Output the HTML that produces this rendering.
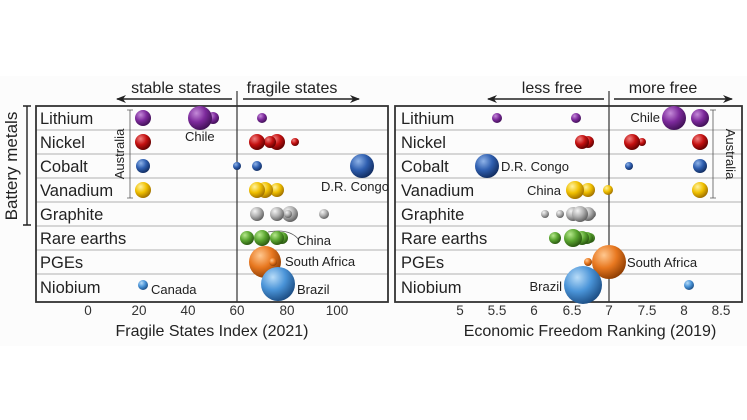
<!DOCTYPE html>
<html><head><meta charset="utf-8"><style>
html,body{margin:0;padding:0;background:#fff}
svg{display:block;font-family:"Liberation Sans",sans-serif}
</style></head><body>
<svg width="747" height="420" viewBox="0 0 747 420" xmlns="http://www.w3.org/2000/svg">
<defs>
<radialGradient id="pu" cx="35%" cy="30%" r="75%"><stop offset="0" stop-color="#c48ad8"/><stop offset="0.5" stop-color="#7d2a9c"/><stop offset="1" stop-color="#3d0f52"/></radialGradient>
<radialGradient id="re" cx="35%" cy="30%" r="75%"><stop offset="0" stop-color="#f08080"/><stop offset="0.5" stop-color="#c41010"/><stop offset="1" stop-color="#5a0000"/></radialGradient>
<radialGradient id="bl" cx="35%" cy="30%" r="75%"><stop offset="0" stop-color="#8fb3e8"/><stop offset="0.5" stop-color="#2f5fb0"/><stop offset="1" stop-color="#102a5c"/></radialGradient>
<radialGradient id="ye" cx="35%" cy="30%" r="75%"><stop offset="0" stop-color="#fff2a0"/><stop offset="0.5" stop-color="#f0c000"/><stop offset="1" stop-color="#9a6a00"/></radialGradient>
<radialGradient id="gr" cx="35%" cy="30%" r="75%"><stop offset="0" stop-color="#f4f4f4"/><stop offset="0.5" stop-color="#b0b0b0"/><stop offset="1" stop-color="#5a5a5a"/></radialGradient>
<radialGradient id="gn" cx="35%" cy="30%" r="75%"><stop offset="0" stop-color="#b6e88c"/><stop offset="0.5" stop-color="#5aa530"/><stop offset="1" stop-color="#26520e"/></radialGradient>
<radialGradient id="or" cx="35%" cy="30%" r="75%"><stop offset="0" stop-color="#ffc890"/><stop offset="0.5" stop-color="#e87820"/><stop offset="1" stop-color="#8a3a00"/></radialGradient>
<radialGradient id="lb" cx="35%" cy="30%" r="75%"><stop offset="0" stop-color="#b8dcf8"/><stop offset="0.5" stop-color="#4a94d8"/><stop offset="1" stop-color="#1a4a80"/></radialGradient>
<marker id="ar" markerWidth="10" markerHeight="8" refX="9" refY="4" orient="auto" markerUnits="userSpaceOnUse"><path d="M0,0 L10,4 L0,8 L3,4 Z" fill="#222"/></marker>
</defs>
<rect x="0" y="76" width="747" height="270" fill="#fcfcfc"/>
<g stroke="#999" stroke-width="0.8">
<line x1="36" y1="130" x2="388" y2="130"/><line x1="36" y1="154" x2="388" y2="154"/><line x1="36" y1="178" x2="388" y2="178"/><line x1="36" y1="202" x2="388" y2="202"/><line x1="36" y1="226" x2="388" y2="226"/><line x1="36" y1="250" x2="388" y2="250"/><line x1="36" y1="274" x2="388" y2="274"/>
<line x1="395" y1="130" x2="742" y2="130"/><line x1="395" y1="154" x2="742" y2="154"/><line x1="395" y1="178" x2="742" y2="178"/><line x1="395" y1="202" x2="742" y2="202"/><line x1="395" y1="226" x2="742" y2="226"/><line x1="395" y1="250" x2="742" y2="250"/><line x1="395" y1="274" x2="742" y2="274"/>
</g>
<rect x="36" y="106" width="352" height="196" fill="none" stroke="#333" stroke-width="1.8"/>
<rect x="395" y="106" width="347" height="196" fill="none" stroke="#333" stroke-width="1.8"/>
<line x1="237" y1="91" x2="237" y2="302" stroke="#333" stroke-width="1.2"/>
<line x1="609" y1="91" x2="609" y2="302" stroke="#333" stroke-width="1.2"/>
<g stroke="#222" stroke-width="1.5" marker-end="url(#ar)">
<line x1="232" y1="99" x2="117" y2="99"/><line x1="243" y1="99" x2="359" y2="99"/>
<line x1="604" y1="99" x2="488" y2="99"/><line x1="614" y1="99" x2="732" y2="99"/>
</g>
<g font-size="16" fill="#222" text-anchor="middle">
<text x="176" y="93">stable states</text><text x="292" y="93">fragile states</text>
<text x="552" y="93">less free</text><text x="663" y="93">more free</text>
</g>
<g font-size="16.5" fill="#222">
<text x="40" y="124">Lithium</text><text x="40" y="148">Nickel</text><text x="40" y="172">Cobalt</text><text x="40" y="196">Vanadium</text><text x="40" y="220">Graphite</text><text x="40" y="244">Rare earths</text><text x="40" y="268">PGEs</text><text x="40" y="293">Niobium</text>
<text x="401" y="124">Lithium</text><text x="401" y="148">Nickel</text><text x="401" y="172">Cobalt</text><text x="401" y="196">Vanadium</text><text x="401" y="220">Graphite</text><text x="401" y="244">Rare earths</text><text x="401" y="268">PGEs</text><text x="401" y="293">Niobium</text>
</g>
<g font-size="13.5" fill="#333" text-anchor="middle">
<text x="88" y="315">0</text><text x="139" y="315">20</text><text x="188" y="315">40</text><text x="237" y="315">60</text><text x="287" y="315">80</text><text x="337" y="315">100</text>
<text x="460" y="315">5</text><text x="497" y="315">5.5</text><text x="534" y="315">6</text><text x="572" y="315">6.5</text><text x="609" y="315">7</text><text x="647" y="315">7.5</text><text x="684" y="315">8</text><text x="721" y="315">8.5</text>
</g>
<g font-size="16" fill="#222" text-anchor="middle">
<text x="212" y="336">Fragile States Index (2021)</text>
<text x="590" y="336">Economic Freedom Ranking (2019)</text>
<text transform="translate(17,166) rotate(-90)" font-size="17">Battery metals</text>
<text transform="translate(124,154) rotate(-90)" font-size="13">Australia</text>
<text transform="translate(726,154) rotate(90)" font-size="13">Australia</text>
</g>
<g stroke="#222" stroke-width="1.4" fill="none">
<path d="M23,106 H31 M27,106 V225 M23,225 H31"/>
</g>
<g stroke="#555" stroke-width="0.8" fill="none">
<path d="M127,110 H133 M130,110 V198 M127,198 H133"/>
<path d="M710,110 H716 M713,110 V198 M710,198 H716"/>
<path d="M299,240 Q290,228 268,232"/>
</g>
<g>
<circle cx="262" cy="118" r="5" fill="url(#pu)"/><circle cx="213" cy="118" r="6" fill="url(#pu)"/><circle cx="200" cy="118" r="12" fill="url(#pu)"/><circle cx="143" cy="118" r="8" fill="url(#pu)"/>
<circle cx="143" cy="142" r="8" fill="url(#re)"/><circle cx="295" cy="142" r="4" fill="url(#re)"/><circle cx="277" cy="142" r="8" fill="url(#re)"/><circle cx="270" cy="142" r="6" fill="url(#re)"/><circle cx="257" cy="142" r="8" fill="url(#re)"/>
<circle cx="143" cy="166" r="7" fill="url(#bl)"/><circle cx="237" cy="166" r="4" fill="url(#bl)"/><circle cx="257" cy="166" r="5" fill="url(#bl)"/><circle cx="362" cy="166" r="12" fill="url(#bl)"/>
<circle cx="143" cy="190" r="8" fill="url(#ye)"/><circle cx="277" cy="190" r="7" fill="url(#ye)"/><circle cx="265" cy="190" r="8" fill="url(#ye)"/><circle cx="257" cy="190" r="8" fill="url(#ye)"/>
<circle cx="324" cy="214" r="5" fill="url(#gr)"/><circle cx="290" cy="214" r="8" fill="url(#gr)"/><circle cx="288" cy="214" r="4" fill="url(#gr)"/><circle cx="277" cy="214" r="7" fill="url(#gr)"/><circle cx="257" cy="214" r="7" fill="url(#gr)"/>
<circle cx="247" cy="238" r="7" fill="url(#gn)"/><circle cx="282" cy="238" r="6" fill="url(#gn)"/><circle cx="277" cy="238" r="7" fill="url(#gn)"/><circle cx="262" cy="238" r="8" fill="url(#gn)"/>
<circle cx="265" cy="262" r="16" fill="url(#or)"/><circle cx="273" cy="262" r="4" fill="url(#or)"/>
<circle cx="143" cy="285" r="5" fill="url(#lb)"/><circle cx="278" cy="284" r="17" fill="url(#lb)"/>
</g>
<g>
<circle cx="497" cy="118" r="5" fill="url(#pu)"/><circle cx="576" cy="118" r="5" fill="url(#pu)"/><circle cx="674" cy="118" r="12" fill="url(#pu)"/><circle cx="700" cy="118" r="9" fill="url(#pu)"/>
<circle cx="642" cy="142" r="4" fill="url(#re)"/><circle cx="632" cy="142" r="8" fill="url(#re)"/><circle cx="588" cy="142" r="6" fill="url(#re)"/><circle cx="582" cy="142" r="7" fill="url(#re)"/><circle cx="700" cy="142" r="8" fill="url(#re)"/>
<circle cx="487" cy="166" r="12" fill="url(#bl)"/><circle cx="629" cy="166" r="4" fill="url(#bl)"/><circle cx="700" cy="166" r="7" fill="url(#bl)"/>
<circle cx="608" cy="190" r="5" fill="url(#ye)"/><circle cx="588" cy="190" r="7" fill="url(#ye)"/><circle cx="575" cy="190" r="9" fill="url(#ye)"/><circle cx="700" cy="190" r="8" fill="url(#ye)"/>
<circle cx="545" cy="214" r="4" fill="url(#gr)"/><circle cx="560" cy="214" r="4" fill="url(#gr)"/><circle cx="592" cy="214" r="4" fill="url(#gr)"/><circle cx="588" cy="214" r="7" fill="url(#gr)"/><circle cx="573" cy="214" r="7" fill="url(#gr)"/><circle cx="580" cy="214" r="8" fill="url(#gr)"/>
<circle cx="555" cy="238" r="6" fill="url(#gn)"/><circle cx="590" cy="238" r="5" fill="url(#gn)"/><circle cx="587" cy="238" r="6" fill="url(#gn)"/><circle cx="582" cy="238" r="7" fill="url(#gn)"/><circle cx="573" cy="238" r="9" fill="url(#gn)"/>
<circle cx="588" cy="262" r="4" fill="url(#or)"/><circle cx="609" cy="262" r="17" fill="url(#or)"/>
<circle cx="689" cy="285" r="5" fill="url(#lb)"/><circle cx="583" cy="285" r="19" fill="url(#lb)"/>
</g>
<g font-size="13" fill="#222">
<text x="185" y="141">Chile</text>
<text x="321" y="191">D.R. Congo</text>
<text x="297" y="245">China</text>
<text x="285" y="266">South Africa</text>
<text x="151" y="294">Canada</text>
<text x="297" y="294">Brazil</text>
<text x="660" y="122" text-anchor="end">Chile</text>
<text x="501" y="171">D.R. Congo</text>
<text x="561" y="195" text-anchor="end">China</text>
<text x="627" y="267">South Africa</text>
<text x="562" y="291" text-anchor="end">Brazil</text>
</g>
</svg>
</body></html>
